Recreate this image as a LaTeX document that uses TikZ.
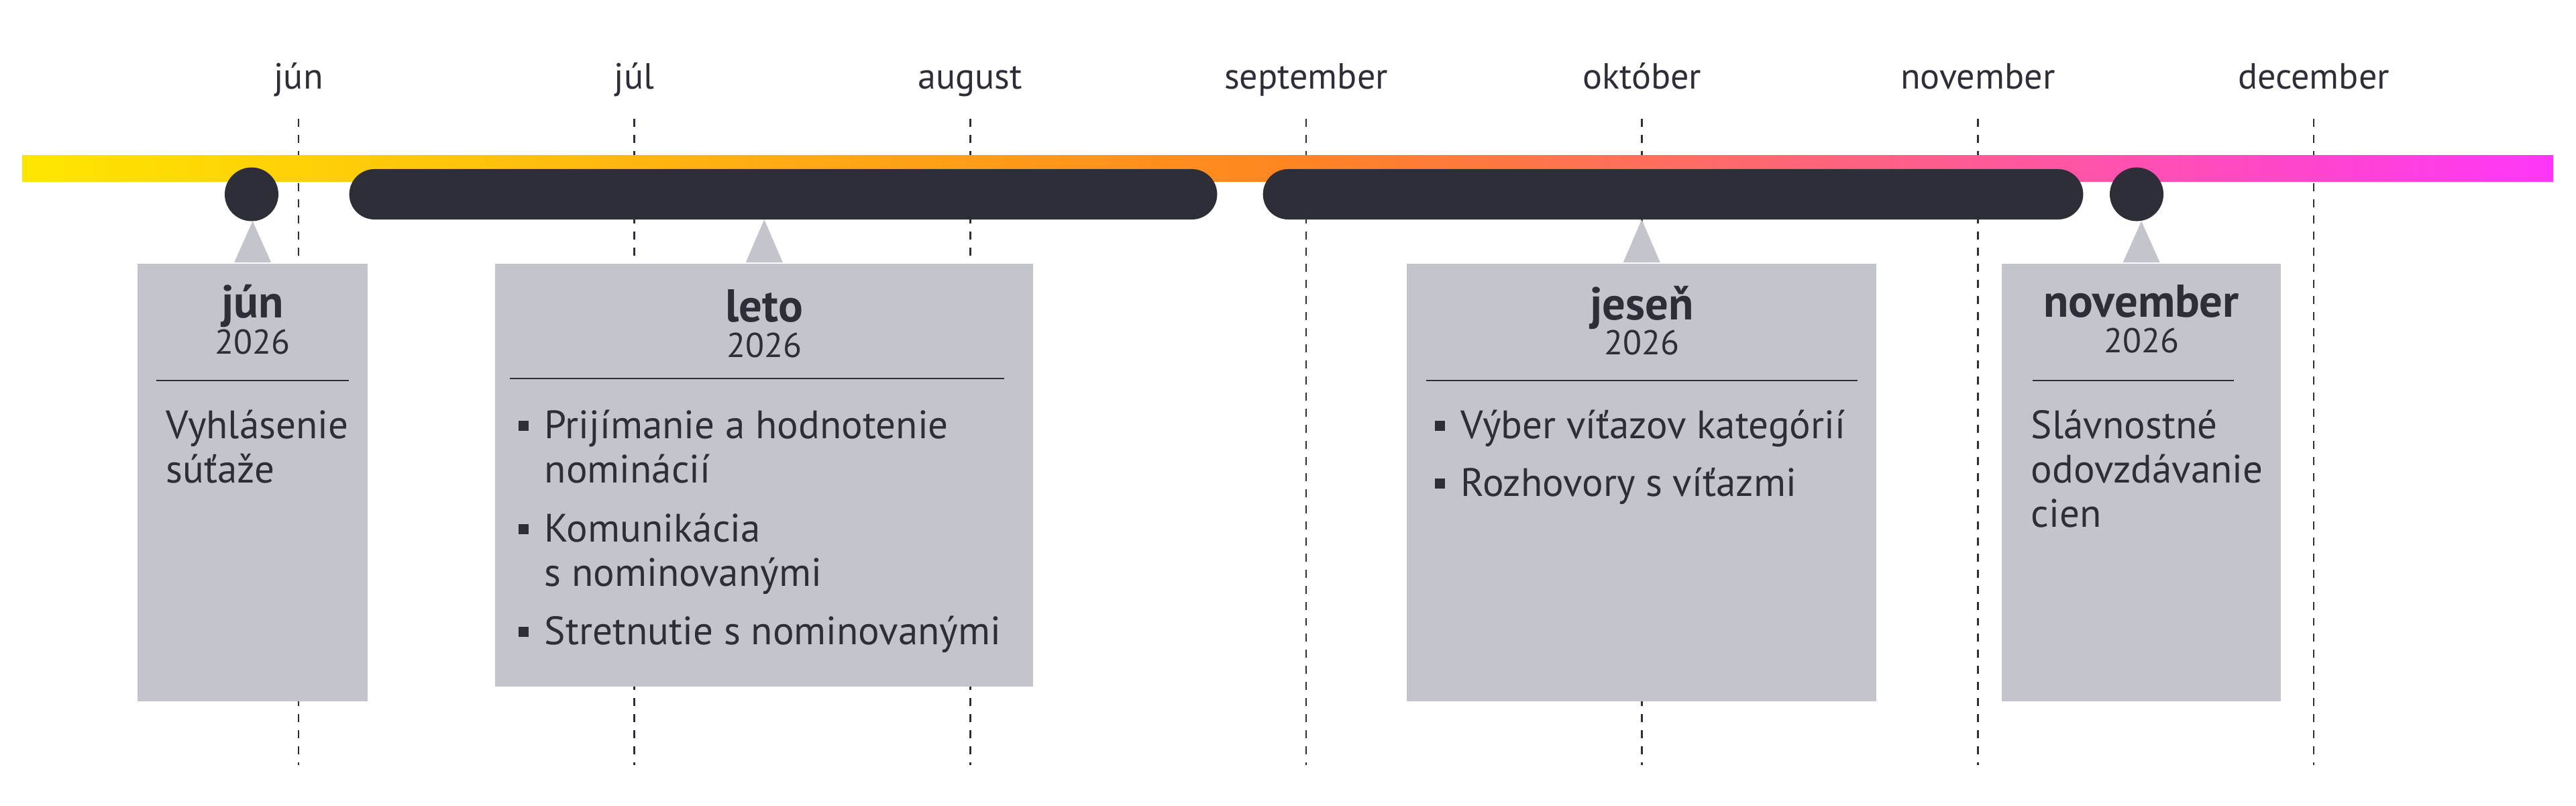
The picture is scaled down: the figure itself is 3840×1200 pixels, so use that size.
\documentclass[tikz,border=0pt]{standalone}
\usepackage{fontspec}
\setmainfont{PT Sans}
\usetikzlibrary{positioning,calc}
\definecolor{ink}{HTML}{2E2E38}
\definecolor{cardgrey}{HTML}{C4C4CD}
\definecolor{barA}{HTML}{FFE600}
\definecolor{barB}{HTML}{FF8520}
\definecolor{barC}{HTML}{FF36F8}
\newcommand\lines[1]{\begin{tabular}[t]{@{}l@{}}#1\end{tabular}}

\begin{document}
\begin{tikzpicture}[x=0.01cm,y=-0.01cm,
  month/.style={anchor=base,text=ink,font=\fontsize{15.4}{18}\selectfont},
  monthline/.style={draw=ink,line width=0.7pt,dash pattern=on 3.41pt off 3.41pt},
  pill/.style={fill=ink,minimum height=0.75cm,rounded corners=0.375cm,inner sep=0pt,outer sep=0pt},
  dotnode/.style={circle,fill=ink,minimum size=0.8cm,inner sep=0pt,outer sep=0pt},
  card/.style={fill=cardgrey,anchor=north west,inner sep=0pt,outer sep=0pt},
  head/.style={anchor=base,text=ink,font=\fontsize{19.5}{22}\selectfont\bfseries},
  year/.style={anchor=base,text=ink,font=\fontsize{14.6}{17}\selectfont},
  body/.style={anchor=base west,text=ink,inner sep=0pt,font=\fontsize{16.8}{18.8}\selectfont},
  sepline/.style={draw=ink,line width=0.5pt}]
\useasboundingbox (0,0) rectangle (3840,1200);

% month grid
\foreach \m [count=\i from 0] in {jún,júl,august,september,október,november,december} {
  \node[month] (m\i) at (445+500.67*\i,132) {\m};
  \coordinate (gt\i) at (445+500.67*\i,177);
  \coordinate (gb\i) at (445+500.67*\i,1140);
  \draw[monthline] (gt\i) -- (gb\i);
}

% gradient bar
\shade[left color=barA,right color=barC,middle color=barB] (33,231) rectangle (3806,270);

% phases
\node[dotnode] (d1) at (375,289.5) {};
\node[pill,minimum width=12.93cm] (p1) at (1167.5,289.5) {};
\node[pill,minimum width=12.22cm] (p2) at (2494,289.5) {};
\node[dotnode] (d2) at (3185,289.5) {};

% cards
\node[card,minimum width=3.43cm,minimum height=6.52cm] (cjun) at (205,393) {};
\node[card,minimum width=8.02cm,minimum height=6.30cm] (cleto) at (738,393) {};
\node[card,minimum width=7.00cm,minimum height=6.52cm] (cjes) at (2097,393) {};
\node[card,minimum width=4.16cm,minimum height=6.52cm] (cnov) at (2984,393) {};

% pointers
\fill[cardgrey] ([xshift=-0.275cm,yshift=0.02cm]cjun.north) -- (cjun.north |- d1.south) -- ([xshift=0.275cm,yshift=0.02cm]cjun.north) -- cycle;
\fill[cardgrey] ([xshift=-0.275cm,yshift=0.02cm]cleto.north) -- (cleto.north |- p1.south) -- ([xshift=0.275cm,yshift=0.02cm]cleto.north) -- cycle;
\fill[cardgrey] ([xshift=-0.275cm,yshift=0.02cm]cjes.north) -- (cjes.north |- p2.south) -- ([xshift=0.275cm,yshift=0.02cm]cjes.north) -- cycle;
\fill[cardgrey] ([xshift=-0.275cm,yshift=0.02cm]cnov.north) -- (cnov.north |- d2.south) -- ([xshift=0.275cm,yshift=0.02cm]cnov.north) -- cycle;

% jún
\node[head] (hjun) at ($(cjun.north)+(0,80)$) {jún};
\node[year] (yjun) at ($(hjun.base)+(0,54)$) {2026};
\draw[sepline] ($(cjun.north west)+(28,174)$) -- ($(cjun.north east)+(-28,174)$);
\node[body] (tjun) at ($(cjun.north west)+(42,260)$) {\lines{Vyhlásenie\\súťaže}};

% leto
\node[head] (hleto) at ($(cleto.north)+(0,86)$) {leto};
\node[year] (yleto) at ($(hleto.base)+(0,53)$) {2026};
\draw[sepline] ($(cleto.north west)+(22,171)$) -- ($(cleto.north east)+(-43,171)$);
\node[body] (tleto1) at ($(cleto.north west)+(73,260)$) {\lines{Prijímanie a hodnotenie\\nominácií}};
\node[body] (tleto2) at ($(cleto.north west)+(73,414)$) {\lines{Komunikácia\\s nominovanými}};
\node[body] (tleto3) at ($(cleto.north west)+(73,567)$) {Stretnutie s nominovanými};
\foreach \t in {tleto1,tleto2,tleto3}
  \fill[ink] ($(\t.base west)+(-38,-11)$) rectangle ++(15,-15);

% jeseň
\node[head] (hjes) at ($(cjes.north)+(0,83)$) {jeseň};
\node[year] (yjes) at ($(hjes.base)+(0,52)$) {2026};
\draw[sepline] ($(cjes.north west)+(29,174)$) -- ($(cjes.north east)+(-28,174)$);
\node[body] (tjes1) at ($(cjes.north west)+(80,260)$) {Výber víťazov kategórií};
\node[body] (tjes2) at ($(cjes.north west)+(80,346)$) {Rozhovory s víťazmi};
\foreach \t in {tjes1,tjes2}
  \fill[ink] ($(\t.base west)+(-38,-11)$) rectangle ++(15,-15);

% november
\node[head] (hnov) at ($(cnov.north)+(0,79)$) {november};
\node[year] (ynov) at ($(hnov.base)+(0,53)$) {2026};
\draw[sepline] ($(cnov.north west)+(46,174)$) -- ($(cnov.north east)+(-70,174)$);
\node[body] (tnov) at ($(cnov.north west)+(43,260)$) {\lines{Slávnostné\\odovzdávanie\\cien}};
\end{tikzpicture}
\end{document}
